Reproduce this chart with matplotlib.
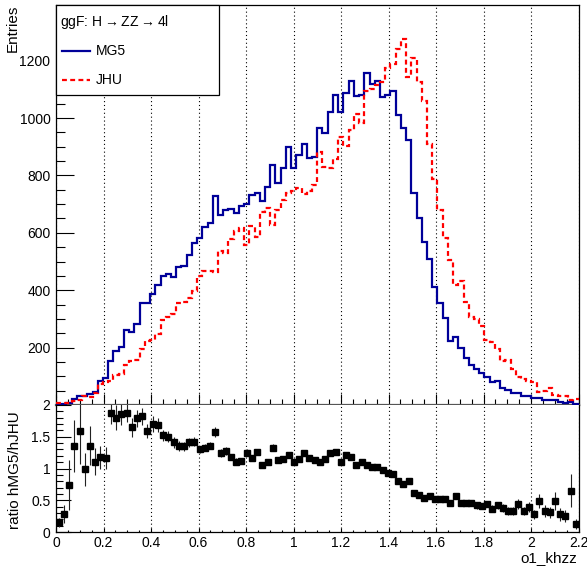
import numpy as np
import matplotlib.pyplot as plt
from matplotlib.ticker import MultipleLocator, FuncFormatter
from matplotlib.patches import Rectangle
from matplotlib.lines import Line2D

plt.rcParams['font.family'] = ['Liberation Sans', 'DejaVu Sans']
plt.rcParams['font.size'] = 10
plt.rcParams['mathtext.default'] = 'regular'

# 100 bins from 0 to 2.2
x_min, x_max, n_bins = 0.0, 2.2, 100

mg5 = [1, 2, 6, 21, 31, 31, 40, 46, 85, 93,
       154, 188, 203, 261, 255, 282, 356, 356, 387, 418,
       449, 456, 445, 480, 484, 523, 565, 581, 621, 635,
       730, 662, 679, 684, 668, 693, 700, 733, 738, 712,
       761, 836, 775, 827, 898, 825, 870, 909, 860, 865,
       966, 949, 1022, 1082, 1022, 1089, 1129, 1077, 1082, 1158,
       1118, 1130, 1074, 1080, 1095, 1010, 966, 923, 740, 653,
       569, 508, 412, 354, 302, 224, 238, 198, 163, 139,
       124, 113, 99, 81, 85, 58, 52, 43, 43, 31,
       31, 24, 23, 16, 18, 17, 9, 8, 11, 3]

jhu = [7, 7, 8, 15, 19, 31, 29, 41, 72, 79,
       82, 104, 109, 139, 155, 158, 196, 224, 228, 249,
       295, 305, 316, 356, 359, 372, 398, 450, 466, 466,
       462, 537, 530, 578, 606, 618, 558, 623, 585, 674,
       686, 629, 681, 715, 738, 746, 755, 735, 745, 765,
       880, 830, 826, 859, 933, 904, 960, 1013, 983, 1095,
       1100, 1115, 1125, 1175, 1190, 1240, 1275, 1143, 1208, 1124,
       1060, 910, 788, 679, 582, 505, 418, 432, 360, 305,
       300, 274, 226, 220, 195, 155, 157, 125, 99, 90,
       85, 80, 46, 48, 58, 35, 31, 31, 17, 21]

ratio = [0.15, 0.28, 0.74, 1.36, 1.59, 0.99, 1.36, 1.11, 1.18, 1.17,
         1.87, 1.80, 1.86, 1.88, 1.65, 1.79, 1.82, 1.59, 1.70, 1.68,
         1.52, 1.50, 1.41, 1.35, 1.35, 1.41, 1.42, 1.30, 1.33, 1.36,
         1.58, 1.24, 1.28, 1.18, 1.11, 1.12, 1.25, 1.17, 1.26, 1.06,
         1.11, 1.33, 1.14, 1.15, 1.22, 1.11, 1.15, 1.24, 1.16, 1.13,
         1.10, 1.15, 1.24, 1.26, 1.10, 1.21, 1.18, 1.06, 1.10, 1.05,
         1.02, 1.02, 0.97, 0.93, 0.91, 0.81, 0.75, 0.81, 0.61, 0.58,
         0.54, 0.56, 0.52, 0.52, 0.52, 0.45, 0.57, 0.46, 0.46, 0.46,
         0.42, 0.41, 0.44, 0.37, 0.42, 0.38, 0.33, 0.33, 0.44, 0.33,
         0.39, 0.28, 0.49, 0.33, 0.31, 0.49, 0.28, 0.25, 0.65, 0.13]

ratio_err = [0.07, 0.14, 0.40, 0.41, 0.52, 0.26, 0.31, 0.22, 0.18, 0.17,
             0.17, 0.20, 0.17, 0.15, 0.15, 0.13, 0.13, 0.11, 0.12, 0.11,
             0.09, 0.09, 0.08, 0.08, 0.07, 0.07, 0.07, 0.06, 0.06, 0.06,
             0.08, 0.06, 0.06, 0.05, 0.05, 0.05, 0.05, 0.05, 0.05, 0.04,
             0.04, 0.05, 0.04, 0.04, 0.04, 0.04, 0.04, 0.04, 0.04, 0.04,
             0.04, 0.04, 0.04, 0.04, 0.04, 0.04, 0.04, 0.04, 0.04, 0.04,
             0.04, 0.04, 0.04, 0.04, 0.04, 0.04, 0.04, 0.04, 0.04, 0.04,
             0.04, 0.04, 0.04, 0.04, 0.04, 0.04, 0.05, 0.05, 0.05, 0.05,
             0.05, 0.05, 0.05, 0.05, 0.06, 0.06, 0.06, 0.06, 0.08, 0.07,
             0.08, 0.07, 0.11, 0.09, 0.09, 0.14, 0.10, 0.10, 0.26, 0.08]

edges = np.linspace(x_min, x_max, n_bins + 1)
centers = 0.5 * (edges[:-1] + edges[1:])

W, H = 587, 566
fig = plt.figure(figsize=(W / 100, H / 100), dpi=100)

# pads (pixel positions)
left, right = 56, 578.5
ax1 = fig.add_axes([left / W, (H - 405) / H, (right - left) / W, 400 / H])
ax2 = fig.add_axes([left / W, (H - 532) / H, (right - left) / W, 127 / H])

blue = '#000099'
dash = (0, (2.2, 1.5))

# upper pad: histograms
ax1.stairs(mg5, edges, baseline=None, color=blue, lw=1.6, zorder=3)
ax1.stairs(jhu, edges, baseline=None, color='red', lw=1.6, linestyle=dash, zorder=3)
ax1.set_xlim(x_min, x_max)
ax1.set_ylim(0, 1394)
ax1.xaxis.set_major_locator(MultipleLocator(0.2))
ax1.xaxis.set_minor_locator(MultipleLocator(0.05))
ax1.yaxis.set_major_locator(MultipleLocator(200))
ax1.yaxis.set_minor_locator(MultipleLocator(50))
ax1.yaxis.set_major_formatter(FuncFormatter(lambda v, p: '' if v == 0 else '%d' % v))
ax1.tick_params(axis='x', which='major', direction='in', length=8, width=0.8, labelbottom=False)
ax1.tick_params(axis='x', which='minor', direction='in', length=4, width=0.8)
ax1.tick_params(axis='y', which='major', direction='in', length=13, width=0.8, pad=4, labelsize=10)
ax1.tick_params(axis='y', which='minor', direction='in', length=6.5, width=0.8)
ax1.grid(axis='x', which='major', linestyle=(0, (1, 2.5)), color='black', lw=0.8)
for s in ['top', 'left', 'right']:
    ax1.spines[s].set_linewidth(0.9)
ax1.spines['bottom'].set_linewidth(1.6)
ax1.spines['bottom'].set_color('#555555')

# legend box
ax1.add_patch(Rectangle((0, 0.775), 0.312, 0.225, transform=ax1.transAxes,
                        facecolor='white', edgecolor='black', lw=0.9, zorder=5,
                        clip_on=False))
ax1.text(0.008, 0.958, r'ggF: H$\rightarrow$ZZ$\rightarrow$4l', transform=ax1.transAxes,
         ha='left', va='center', fontsize=10, zorder=6)
ax1.add_line(Line2D([0.0115, 0.065], [0.885, 0.885], transform=ax1.transAxes,
                    color=blue, lw=1.6, zorder=6))
ax1.text(0.0766, 0.885, 'MG5', transform=ax1.transAxes, ha='left', va='center',
         fontsize=10, zorder=6)
ax1.add_line(Line2D([0.0115, 0.065], [0.8125, 0.8125], transform=ax1.transAxes,
                    color='red', lw=1.6, linestyle=dash, zorder=6))
ax1.text(0.0766, 0.8125, 'JHU', transform=ax1.transAxes, ha='left', va='center',
         fontsize=10, zorder=6)

# lower pad: ratio
ax2.errorbar(centers, ratio, yerr=ratio_err, fmt='s', color='black', ms=5,
             elinewidth=0.8, ecolor='#222222', capsize=0, zorder=3)
ax2.set_xlim(x_min, x_max)
ax2.set_ylim(0, 2)
ax2.xaxis.set_major_locator(MultipleLocator(0.2))
ax2.xaxis.set_minor_locator(MultipleLocator(0.05))
ax2.yaxis.set_major_locator(MultipleLocator(0.5))
ax2.yaxis.set_minor_locator(MultipleLocator(0.1))
ax2.xaxis.set_major_formatter(FuncFormatter(lambda v, p: '%g' % round(v, 2)))
ax2.yaxis.set_major_formatter(FuncFormatter(lambda v, p: '%g' % round(v, 2)))
ax2.tick_params(axis='x', which='major', direction='in', length=3, width=0.8, pad=3, labelsize=10)
ax2.tick_params(axis='x', which='minor', direction='in', length=1.5, width=0.8)
ax2.tick_params(axis='y', which='major', direction='in', length=11, width=0.8, pad=4, labelsize=10)
ax2.tick_params(axis='y', which='minor', direction='in', length=5, width=0.8)
ax2.grid(axis='x', which='major', linestyle=(0, (1, 2.5)), color='black', lw=0.8)
for s in ['bottom', 'left', 'right']:
    ax2.spines[s].set_linewidth(0.9)
ax2.spines['top'].set_visible(False)

# axis titles
fig.text(13 / W, 1 - 5 / H, 'Entries', rotation=90, ha='center', va='top', fontsize=11)
fig.text(15 / W, 1 - 470 / H, 'ratio hMG5/hJHU', rotation=90, ha='center', va='center',
         fontsize=11)
fig.text(577 / W, 1 - 558 / H, 'o1_khzz', ha='right', va='center', fontsize=11)

fig.savefig('out.png', dpi=100)
